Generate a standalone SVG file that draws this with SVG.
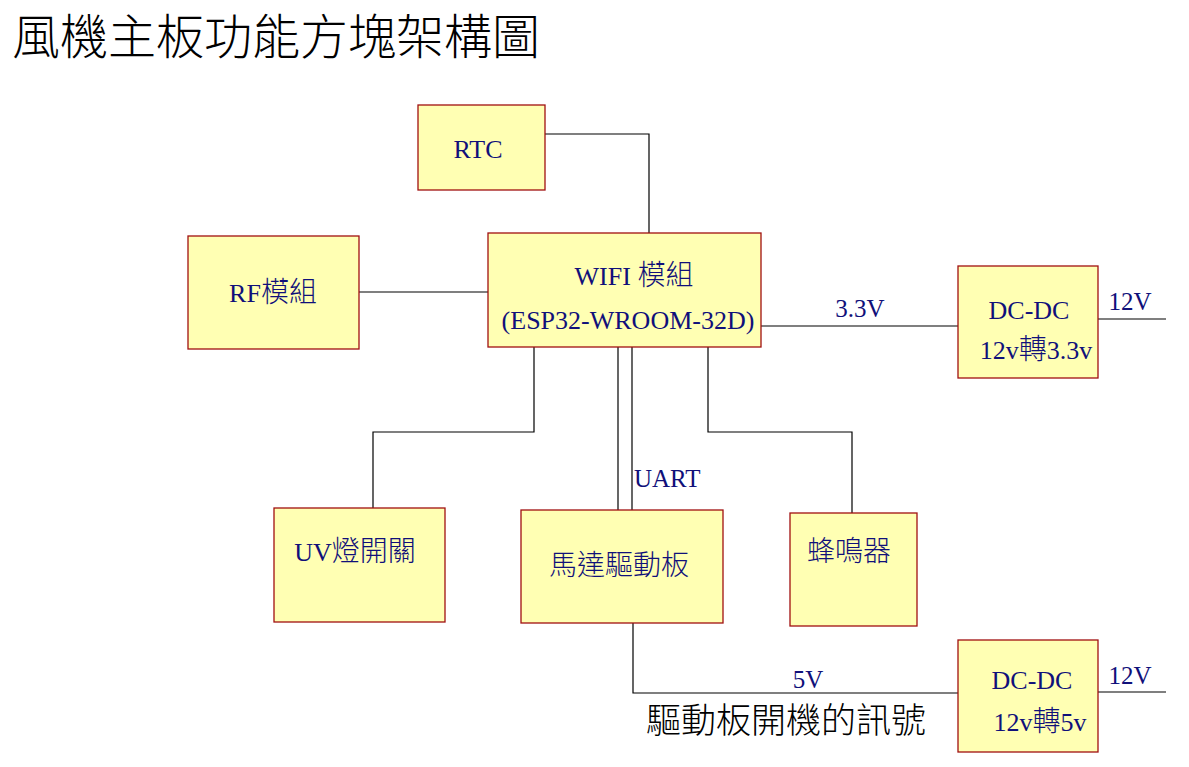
<svg xmlns="http://www.w3.org/2000/svg" width="1189" height="767" viewBox="0 0 1189 767">
<style>
.box{fill:#FFFFB3;stroke:#A01010;stroke-width:1.3}
.t{font-family:"Liberation Serif","Noto Sans CJK TC",serif;font-size:26px;fill:#10107A;text-anchor:middle}
.k{font-family:"Noto Sans CJK TC",sans-serif;font-size:28px;font-weight:300}
.c{font-family:"Liberation Serif","Noto Sans CJK TC",serif;font-size:25px;fill:#10107A}
.ln{fill:none;stroke:#000;stroke-width:1.2}
</style>
<rect width="1189" height="767" fill="#fff"/>
<text x="12" y="54" style="font-family:'Noto Sans CJK TC',sans-serif;font-size:48px;font-weight:300;fill:#000">風機主板功能方塊架構圖</text>
<g id="connectors">
<polyline class="ln" points="545,134 649,134 649,233"/>
<line class="ln" x1="359" y1="292" x2="488" y2="292"/>
<line class="ln" x1="761" y1="326" x2="958" y2="326"/>
<line class="ln" x1="1098" y1="319" x2="1166" y2="319"/>
<polyline class="ln" points="534,347 534,432 373,432 373,508"/>
<line class="ln" x1="618" y1="347" x2="618" y2="510"/>
<line class="ln" x1="632" y1="347" x2="632" y2="510"/>
<polyline class="ln" points="708,347 708,432 852,432 852,513"/>
<polyline class="ln" points="633,623 633,693 963,693"/>
<line class="ln" x1="1098" y1="692" x2="1166" y2="692"/>
<text class="c" x="860" y="317" text-anchor="middle">3.3V</text>
<text class="c" x="1130" y="310" text-anchor="middle">12V</text>
<text class="c" x="634" y="487">UART</text>
<text class="c" x="808" y="688" text-anchor="middle">5V</text>
<text class="c" x="1130" y="684" text-anchor="middle">12V</text>
<text x="786" y="733" style="font-family:'Noto Sans CJK TC',sans-serif;font-size:35px;font-weight:300;fill:#000;text-anchor:middle">驅動板開機的訊號</text>
</g>
<g id="rtc"><rect class="box" x="418" y="105" width="127" height="85"/><text class="t" x="478" y="158">RTC</text></g>
<g id="rf"><rect class="box" x="188" y="236" width="171" height="113"/><text class="t" x="273" y="302">RF<tspan class="k">模組</tspan></text></g>
<g id="wifi"><rect class="box" x="488" y="233" width="273" height="114"/><text class="t" x="634" y="285">WIFI <tspan class="k">模組</tspan></text><text class="t" x="628" y="329">(ESP32-WROOM-32D)</text></g>
<g id="dcdc33"><rect class="box" x="958" y="266" width="140" height="112"/><text class="t" x="1029" y="319">DC-DC</text><text class="t" x="1036" y="359">12v<tspan class="k">轉</tspan>3.3v</text></g>
<g id="uv"><rect class="box" x="274" y="508" width="171" height="114"/><text class="t" x="355" y="561">UV<tspan class="k">燈開關</tspan></text></g>
<g id="motor"><rect class="box" x="521" y="510" width="202" height="113"/><text class="t" x="619" y="575"><tspan class="k">馬達驅動板</tspan></text></g>
<g id="buzzer"><rect class="box" x="790" y="513" width="127" height="113"/><text class="t" x="849" y="561"><tspan class="k">蜂鳴器</tspan></text></g>
<g id="dcdc5"><rect class="box" x="958" y="640" width="140" height="112"/><text class="t" x="1032" y="689">DC-DC</text><text class="t" x="1040" y="731">12v<tspan class="k">轉</tspan>5v</text></g>
</svg>
